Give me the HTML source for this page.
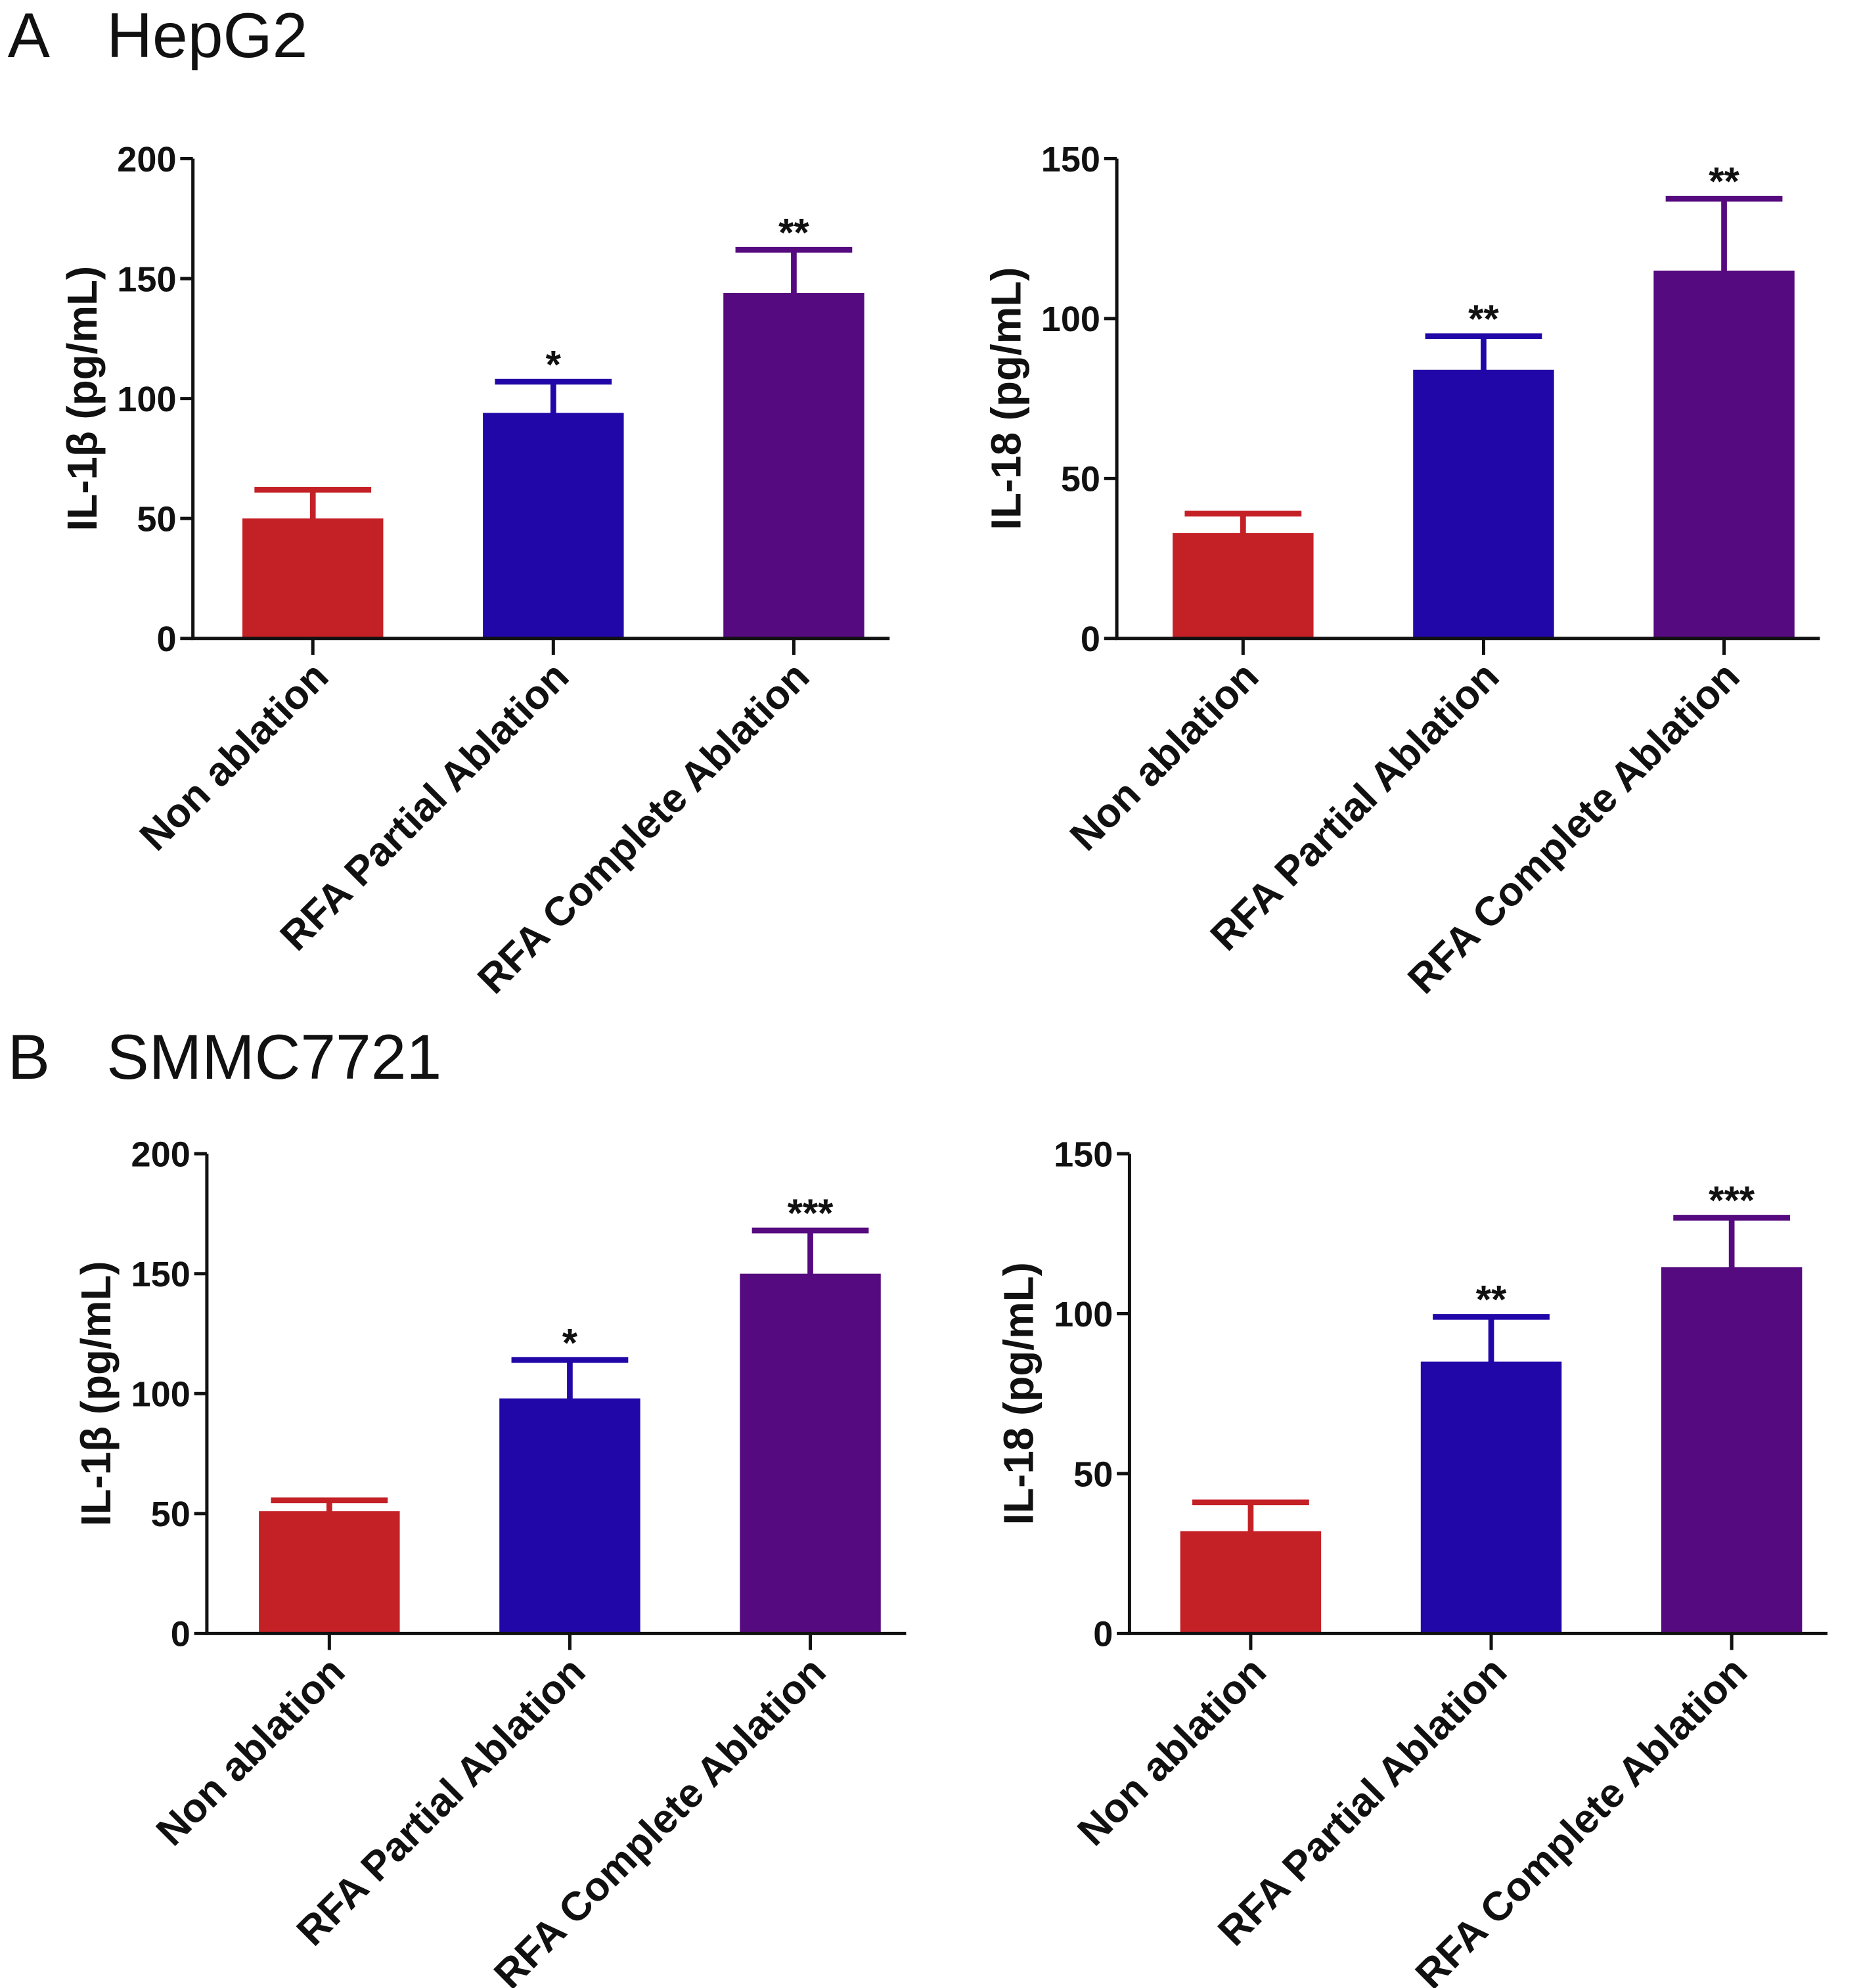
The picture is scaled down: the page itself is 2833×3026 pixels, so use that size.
<!DOCTYPE html>
<html><head><meta charset="utf-8"><style>
html,body{margin:0;padding:0;background:#fff;}
svg{display:block;}
text{font-family:"Liberation Sans",Arial,sans-serif;fill:#111;}
</style></head><body>
<svg id="fig" xmlns="http://www.w3.org/2000/svg" width="2833" height="3026" viewBox="0 0 1466.4 1566.3">
<text x="6" y="45" font-size="50">A</text>
<text x="84" y="45" font-size="50">HepG2</text>
<text x="6" y="850" font-size="50">B</text>
<text x="84" y="850" font-size="50">SMMC7721</text>
</svg>
<script>
const categories = ["Non ablation", "RFA Partial Ablation", "RFA Complete Ablation"];
const hepg2Il1b = [50, 94, 144];
const hepg2Il1bErr = [12, 13, 18];
const hepg2Il1bSig = ["", "*", "**"];
const hepg2Il18 = [33, 84, 115];
const hepg2Il18Err = [6, 10.5, 22.5];
const hepg2Il18Sig = ["", "**", "**"];
const smmcIl1b = [51, 98, 150];
const smmcIl1bErr = [4.5, 16, 18];
const smmcIl1bSig = ["", "*", "***"];
const smmcIl18 = [32, 85, 114.5];
const smmcIl18Err = [9, 14, 15.5];
const smmcIl18Sig = ["", "**", "***"];
const yTicks1b = [0, 50, 100, 150, 200];
const yTicks18 = [0, 50, 100, 150];

const colors = ["#c42127", "#2207a8", "#560a7f"];
const NS = "http://www.w3.org/2000/svg";
const svg = document.getElementById("fig");
function mk(tag, attrs, parent) {
  const e = document.createElementNS(NS, tag);
  for (const k in attrs) e.setAttribute(k, attrs[k]);
  (parent || svg).appendChild(e);
  return e;
}
function panel(id, ax, top, bottom, ymax, ticks, vals, errs, sigs, label, firstBarX) {
  const g = mk("g", {});
  
  
  const y = v => bottom - (v / ymax) * (bottom - top);
  const step = 189.5, bw = 111;
  const cx = i => firstBarX + bw / 2 + i * step;
  vals.forEach((v, i) => {
    const r = mk("rect", {x: cx(i) - bw / 2, y: y(v), width: bw, height: bottom - y(v), fill: colors[i]}, g);
    
    
    const top2 = y(v + errs[i]);
    const el = mk("path", {d: `M${cx(i)},${y(v) + 6}V${top2}M${cx(i) - 46},${top2}H${cx(i) + 46}`, stroke: colors[i], "stroke-width": 4.5, fill: "none"}, g);
    
    
    if (sigs[i]) {
      const t = mk("text", {x: cx(i), y: top2 - 3, "text-anchor": "middle", "font-size": 31, "font-weight": "bold"}, g);
      t.textContent = sigs[i];
      
      
    }
  });
  const axes = mk("path", {d: `M${ax},${top}V${bottom}H${cx(2) + bw / 2 + 20}`, stroke: "#111", "stroke-width": 2.6, fill: "none"}, g);
  
  
  ticks.forEach(t => {
    const tk = mk("line", {x1: ax - 10, x2: ax, y1: y(t), y2: y(t), stroke: "#111", "stroke-width": 2.6}, g);
    
    
    const tl = mk("text", {x: ax - 13, y: y(t) + 10, "text-anchor": "end", "font-size": 28, "font-weight": "bold"}, g);
    tl.textContent = t;
    
    
  });
  categories.forEach((c, i) => {
    const tk = mk("line", {x1: cx(i), x2: cx(i), y1: bottom, y2: bottom + 13, stroke: "#111", "stroke-width": 2.6}, g);
    
    
    const tl = mk("text", {x: 0, y: 0, "text-anchor": "end", "font-size": 32, "font-weight": "bold", transform: `translate(${cx(i) + 14},${bottom + 32}) rotate(-45)`}, g);
    tl.textContent = c;
    
    
  });
  const yl = mk("text", {x: 0, y: 0, "text-anchor": "middle", "font-size": 33, "font-weight": "bold", transform: `translate(${ax - 76},${(top + bottom) / 2}) rotate(-90)`}, g);
  yl.textContent = label;
  
  
}
panel("chart-hepg2-il1b", 152, 125, 503, 200, yTicks1b, hepg2Il1b, hepg2Il1bErr, hepg2Il1bSig, "IL-1β (pg/mL)", 191);
panel("chart-hepg2-il18", 880, 125, 503, 150, yTicks18, hepg2Il18, hepg2Il18Err, hepg2Il18Sig, "IL-18 (pg/mL)", 924);
panel("chart-smmc-il1b", 163, 909, 1287, 200, yTicks1b, smmcIl1b, smmcIl1bErr, smmcIl1bSig, "IL-1β (pg/mL)", 204);
panel("chart-smmc-il18", 890, 909, 1287, 150, yTicks18, smmcIl18, smmcIl18Err, smmcIl18Sig, "IL-18 (pg/mL)", 930);
</script>
</body></html>
